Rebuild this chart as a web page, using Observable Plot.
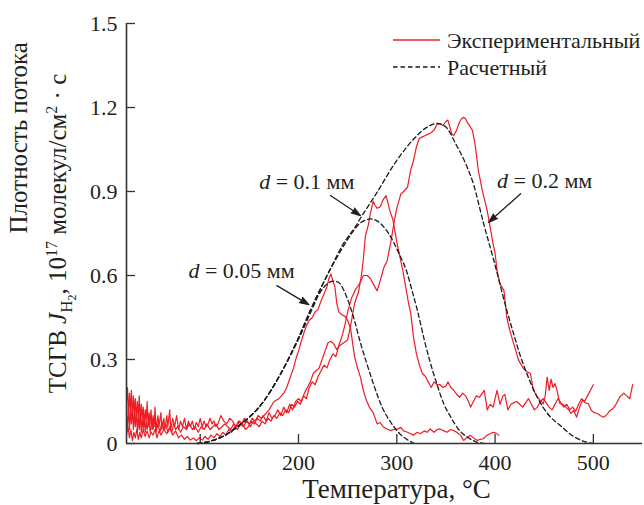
<!DOCTYPE html>
<html><head><meta charset="utf-8">
<script src="https://cdn.jsdelivr.net/npm/d3@7"></script>
<script src="https://cdn.jsdelivr.net/npm/@observablehq/plot@0.6"></script>
<style>
body{margin:0;background:#fff;}
#chart{position:relative;width:644px;height:505px;}
</style></head><body><div id="chart"></div>
<script>
// ---- axis ticks ----
const xTicks = [100, 200, 300, 400, 500];
const yTicks = [0, 0.3, 0.6, 0.9, 1.2, 1.5];

// ---- experimental curves [T, J] ----
const exp005 = [
[25,0.03],[26.5,0.06],[28,0.02],[29.5,0.05],[31,0.01],[32.5,0.04],[34,0.02],[35.5,0.05],[37,0.015],[38.5,0.04],
[40,0.02],[42,0.05],[44,0.025],[46,0.045],[48,0.02],[50,0.04],[52,0.03],[54,0.05],[56,0.02],[58,0.045],
[60,0.03],[63,0.05],[66,0.035],[69,0.055],[72,0.03],[75,0.045],[78,0.02],[81,0.03],[84,0.015],[87,0.025],
[90,0.012],[93,0.02],[96,0.01],[99,0.02],[102,0.012],[105,0.025],[108,0.015],[111,0.03],[114,0.02],[117,0.035],
[120,0.025],[123,0.04],[126,0.03],[129,0.05],[132,0.04],[135,0.06],[138,0.05],[141,0.07],[144,0.06],[147,0.08],
[150,0.07],[153,0.09],[156,0.08],[159,0.1],[162,0.09],[165,0.1],[170,0.12],[175,0.15],[180,0.16],[185,0.18],
[188,0.2],[192,0.24],[195,0.27],[198,0.31],[200,0.33],[202,0.356],[205,0.39],[208,0.42],[211,0.44],[214,0.45],
[217,0.47],[220,0.48],[223,0.51],[226,0.535],[229,0.56],[231,0.59],[233,0.605],[235,0.58],[237,0.56],[239,0.5],
[241,0.47],[244,0.46],[247,0.455],[250,0.44],[253,0.41],[255,0.36],[257,0.31],[260,0.27],[263,0.237],[266,0.19],
[269,0.155],[272,0.13],[276,0.11],[280,0.07],[283,0.075],[286,0.06],[290,0.052],[294,0.046],[297,0.05],[300,0.05],
[304,0.058],[307,0.045],[311,0.04],[314,0.035],[317,0.03],[321,0.04],[324,0.035],[328,0.045],[331,0.04],[334,0.052],
[338,0.04],[341,0.05],[344,0.052],[348,0.045],[351,0.04],[355,0.05],[358,0.046],[361,0.04],[365,0.029],[368,0.011],
[371,0.02],[375,0.029],[378,0.02],[382,0.011],[385,0.015],[388,0.017],[392,0.03],[395,0.035],[398,0.04],[401,0.037],[404,0.029]
];
const exp01 = [
[25,0.1],[26,0.06],[27,0.13],[28,0.05],[29,0.12],[30,0.07],[31,0.14],[32,0.05],[33,0.11],[34,0.06],
[35,0.12],[36,0.04],[37,0.1],[38,0.05],[39,0.11],[40,0.04],[41,0.09],[42,0.05],[43,0.1],[44,0.04],
[45,0.08],[46,0.05],[48,0.09],[49,0.04],[51,0.08],[52,0.05],[54,0.09],[55,0.04],[57,0.07],[59,0.04],
[61,0.08],[63,0.05],[65,0.07],[67,0.04],[69,0.06],[71,0.04],[73,0.07],[75,0.05],[77,0.06],[80,0.04],
[83,0.06],[86,0.05],[89,0.07],[92,0.05],[95,0.06],[98,0.04],[101,0.06],[104,0.05],[107,0.07],[110,0.05],
[113,0.06],[116,0.07],[119,0.05],[122,0.06],[125,0.07],[128,0.06],[131,0.05],[134,0.07],[137,0.06],[140,0.08],
[143,0.07],[146,0.05],[149,0.06],[152,0.08],[155,0.07],[158,0.09],[161,0.08],[164,0.1],[167,0.08],[170,0.11],
[173,0.09],[176,0.1],[179,0.12],[182,0.1],[185,0.13],[188,0.11],[191,0.14],[194,0.12],[197,0.15],[200,0.16],
[203,0.15],[206,0.18],[209,0.2],[212,0.22],[215,0.25],[218,0.26],[221,0.27],[224,0.3],[227,0.33],[230,0.36],
[233,0.365],[236,0.355],[239,0.335],[242,0.35],[246,0.36],[250,0.37],[253,0.42],[257,0.5],[261,0.54],[264,0.6],
[266,0.66],[268,0.74],[271,0.78],[273,0.82],[276,0.865],[278,0.85],[280,0.84],[283,0.845],[286,0.87],[289,0.885],
[291,0.86],[293,0.83],[296,0.8],[298,0.76],[300,0.72],[303,0.67],[306,0.62],[309,0.56],[312,0.5],[314,0.47],
[317,0.38],[320,0.32],[323,0.28],[326,0.25],[329,0.24],[332,0.22],[335,0.2],[338,0.22],[341,0.21],[344,0.21],
[347,0.2],[350,0.205],[352,0.22],[355,0.2],[358,0.19],[361,0.175],[364,0.165],[367,0.18],[370,0.17],[373,0.15],
[375,0.13],[378,0.15],[381,0.17],[384,0.165],[387,0.18],[389,0.19],[392,0.12],[395,0.14],[398,0.13],[400,0.16],
[402,0.19],[405,0.14],[408,0.17],[410,0.175],[413,0.12],[416,0.14],[419,0.145],[422,0.15],[425,0.14],[428,0.13],
[431,0.145],[434,0.16],[437,0.14],[440,0.12],[443,0.13],[446,0.15],[449,0.16],[452,0.145],[455,0.13],[458,0.12],
[461,0.14],[464,0.16],[467,0.145],[470,0.13],[473,0.14],[476,0.12],[479,0.13],[482,0.115],[485,0.14],[488,0.16],
[491,0.15],[494,0.17],[497,0.19],[500,0.21]
];
const exp02 = [
[25,0.15],[26,0.2],[27,0.1],[28,0.18],[29,0.12],[30,0.19],[31,0.09],[32,0.17],[33,0.11],[34,0.16],
[35,0.08],[36,0.15],[37,0.1],[38,0.17],[39,0.07],[40,0.14],[41,0.09],[42,0.13],[43,0.06],[44,0.12],
[45,0.08],[46,0.15],[47,0.06],[48,0.11],[49,0.07],[50,0.12],[51,0.05],[52,0.1],[53,0.06],[54,0.13],
[55,0.05],[57,0.1],[58,0.06],[60,0.11],[61,0.05],[63,0.09],[64,0.05],[66,0.1],[67,0.06],[69,0.12],
[70,0.05],[72,0.09],[74,0.06],[76,0.1],[78,0.05],[80,0.08],[82,0.06],[84,0.09],[86,0.05],[88,0.08],
[90,0.06],[92,0.08],[94,0.05],[96,0.075],[98,0.06],[100,0.09],[102,0.06],[104,0.08],[106,0.06],[108,0.07],
[110,0.09],[112,0.07],[114,0.08],[116,0.06],[118,0.07],[121,0.1],[124,0.08],[127,0.07],[130,0.09],[133,0.08],
[136,0.06],[139,0.08],[142,0.07],[145,0.09],[148,0.08],[151,0.06],[154,0.08],[157,0.07],[160,0.06],[163,0.08],
[166,0.07],[169,0.09],[172,0.08],[175,0.1],[178,0.09],[181,0.11],[184,0.1],[187,0.12],[190,0.11],[193,0.14],
[196,0.13],[199,0.15],[202,0.14],[205,0.17],[208,0.16],[211,0.2],[214,0.22],[217,0.21],[220,0.24],[223,0.26],
[226,0.28],[229,0.27],[232,0.3],[235,0.32],[238,0.31],[241,0.35],[244,0.38],[247,0.42],[250,0.47],[254,0.52],
[258,0.55],[262,0.57],[266,0.6],[270,0.6],[273,0.59],[276,0.57],[280,0.545],[283,0.58],[287,0.63],[290,0.65],
[294,0.72],[297,0.785],[300,0.84],[304,0.89],[307,0.9],[311,0.916],[314,0.975],[317,1.01],[320,1.06],[323,1.09],
[326,1.095],[329,1.1],[332,1.105],[335,1.11],[338,1.12],[341,1.14],[344,1.142],[347,1.136],[350,1.15],[352,1.155],
[354,1.13],[356,1.105],[358,1.1],[361,1.12],[364,1.15],[366,1.16],[368,1.165],[370,1.16],[372,1.145],[375,1.13],
[377,1.118],[380,1.06],[383,0.975],[387,0.904],[390,0.86],[392,0.832],[395,0.773],[398,0.713],[400,0.68],[402,0.618],
[405,0.57],[409,0.547],[412,0.45],[415,0.404],[419,0.356],[424,0.297],[429,0.267],[433,0.255],[436,0.25],[439,0.19],
[443,0.166],[446,0.154],[449,0.142],[451,0.17],[453,0.237],[455,0.19],[457,0.23],[459,0.2],[461,0.214],[463,0.19],
[466,0.142],[469,0.14],[472,0.13],[475,0.12],[477,0.107],[480,0.118],[483,0.094],[486,0.13],[489,0.154],[492,0.145],
[495,0.142],[498,0.118],[501,0.11],[504,0.107],[507,0.1],[510,0.094],[513,0.1],[517,0.118],[520,0.125],[523,0.14],
[527,0.166],[531,0.18],[534,0.17],[537,0.16],[540,0.21]
];

// ---- calculated curves [T, J] ----
const calc005 = [
[97,0],[110,0.008],[121,0.022],[140,0.065],[164,0.148],[182,0.25],[199,0.365],[212,0.465],[222,0.54],[230,0.572],
[236,0.58],[241,0.575],[246,0.548],[251,0.505],[256,0.451],[263,0.36],[270,0.28],[277,0.205],[285,0.13],[294,0.075],
[303,0.035],[311,0.013],[318,0]
];
const calc01 = [
[97,0],[110,0.008],[121,0.022],[140,0.065],[164,0.148],[182,0.25],[199,0.37],[212,0.475],[232,0.62],[245,0.7],
[255,0.755],[262,0.785],[268,0.798],[273,0.802],[280,0.795],[287,0.772],[294,0.737],[302,0.68],[310,0.615],[316,0.54],
[321,0.475],[328,0.37],[334,0.29],[341,0.21],[348,0.14],[355,0.094],[363,0.05],[372,0.022],[380,0.007],[388,0]
];
const calc02 = [
[97,0],[110,0.008],[121,0.022],[140,0.065],[164,0.148],[182,0.25],[199,0.37],[212,0.475],[232,0.62],[245,0.71],
[258,0.775],[264,0.81],[278,0.886],[300,1.011],[319,1.094],[330,1.128],[341,1.143],[350,1.13],[360,1.07],[370,1.0],
[378,0.927],[388,0.79],[399,0.65],[412,0.475],[419,0.39],[426,0.31],[434,0.235],[443,0.165],[455,0.1],[466,0.065],
[480,0.025],[494,0.004],[500,0]
];

// ---- annotations (data units) ----
const annoLabels = ["d = 0.05 мм", "d = 0.1 мм", "d = 0.2 мм"];
const annoT = [88, 160, 402];
const annoJ = [0.615, 0.933, 0.939];
const arrowFromT = [178, 232.5, 426];
const arrowFromJ = [0.564, 0.886, 0.892];
const arrowToT = [210.5, 263, 393.5];
const arrowToJ = [0.496, 0.814, 0.79];

const legendLabels = ["Экспериментальный", "Расчетный"];
const xTitle = "Температура, °С";
const yTitle1 = "Плотность потока";
const yTitle2 = "Y2TITLE";

const RED = "#ee1c24";
const INK = "#231f20";
const rows = a => a.map(([t, v]) => ({t, v}));
const annos = annoLabels.map((label, i) => ({label, t: annoT[i], j: annoJ[i]}));
const arrows = annoLabels.map((l, i) => ({x1: arrowFromT[i], y1: arrowFromJ[i], x2: arrowToT[i], y2: arrowToJ[i]}));

const dashed = {x: "t", y: "v", stroke: "#1a1a1a", strokeWidth: 1.3, strokeDasharray: "4.5,3", curve: "monotone-x"};
const solid = {x: "t", y: "v", stroke: RED, strokeWidth: 1.2};

const chart = Plot.plot({
  width: 644, height: 505,
  marginLeft: 126, marginRight: 2, marginTop: 23, marginBottom: 62,
  style: {fontFamily: "'Liberation Serif', 'Times New Roman', serif", fontSize: "22px", color: INK, background: "#fff"},
  x: {domain: [25, 550]},
  y: {domain: [0, 1.5]},
  marks: [
    Plot.line(rows(exp005), solid),
    Plot.line(rows(exp01), solid),
    Plot.line(rows(exp02), solid),
    Plot.line(rows(calc005), dashed),
    Plot.line(rows(calc01), dashed),
    Plot.line(rows(calc02), dashed),
    Plot.ruleY([0], {stroke: "#333", strokeWidth: 1.6}),
    Plot.ruleX([25], {stroke: "#333", strokeWidth: 1.6}),
    Plot.tickX(xTicks, {x: d => d, insetTop: 411, stroke: "#333", strokeWidth: 1.3}),
    Plot.tickY(yTicks, {y: d => d, insetRight: 507, stroke: "#333", strokeWidth: 1.3}),
    Plot.axisX(xTicks, {tickSize: 0, tickPadding: 11, label: null, fontSize: 22}),
    Plot.axisY(yTicks, {tickSize: 0, tickPadding: 9, label: null, fontSize: 22,
      tickFormat: d => d === 0 ? "0" : d.toFixed(1)}),
    Plot.text([xTitle], {frameAnchor: "bottom", dy: 54, dx: 12, fontSize: 27, fill: INK}),
    Plot.text([yTitle1], {frameAnchor: "left", rotate: -90, dx: -108, fontSize: 25, fill: INK}),
    Plot.text([yTitle2], {frameAnchor: "left", rotate: -90, dx: -69, fontSize: 25, fill: INK}),
    Plot.text(annos, {x: "t", y: "j", text: "label", textAnchor: "start", fontSize: 22, fill: INK}),
    Plot.arrow(arrows, {x1: "x1", y1: "y1", x2: "x2", y2: "y2", stroke: INK, fill: INK,
      strokeWidth: 1.3, headLength: 11, headAngle: 36})
  ]
});
document.getElementById("chart").append(chart);

// ---- rich text (italic d, sub/superscripts) ----
function buildY2(el, f) {
  el.text("").attr("font-size", 25 * f).attr("text-anchor", "middle");
  el.append("tspan").text("ТСГВ ");
  el.append("tspan").attr("font-style", "italic").text("J");
  el.append("tspan").attr("font-size", 17 * f).attr("dy", 6 * f).text("H");
  el.append("tspan").attr("font-size", 12 * f).attr("dy", 4 * f).text("2");
  el.append("tspan").attr("dy", -10 * f).text(", 10");
  el.append("tspan").attr("font-size", 16 * f).attr("dy", -9 * f).text("17");
  el.append("tspan").attr("dy", 9 * f).text(" молекул/см");
  el.append("tspan").attr("font-size", 16 * f).attr("dy", -9 * f).text("2");
  el.append("tspan").attr("dy", 9 * f).text(" · с");
}
const svg = d3.select(chart);
svg.selectAll("text").each(function() {
  const el = d3.select(this);
  const s = this.textContent;
  if (s.startsWith("d = ")) {
    el.text("");
    el.append("tspan").attr("font-style", "italic").text("d");
    el.append("tspan").text(s.slice(1));
  } else if (s === "Y2TITLE") {
    buildY2(el, 1);
    const len = this.getComputedTextLength();
    const f = len > 362 ? 362 / len : 1;
    if (f < 1) buildY2(el, f);
  }
});

// ---- legend ----
const lg = svg.append("g").attr("font-family", "'Liberation Serif', serif").attr("font-size", 22)
  .attr("fill", INK).attr("text-anchor", "start");
const lgY = [40, 67];
legendLabels.forEach((label, i) => {
  lg.append("line").attr("x1", 393).attr("x2", 440).attr("y1", lgY[i]).attr("y2", lgY[i])
    .attr("stroke", i === 0 ? RED : "#1a1a1a").attr("stroke-width", 1.3)
    .attr("stroke-dasharray", i === 0 ? null : "4.5,3");
  lg.append("text").attr("x", 447).attr("y", lgY[i]).attr("dy", "0.35em").text(label);
});
</script></body></html>
